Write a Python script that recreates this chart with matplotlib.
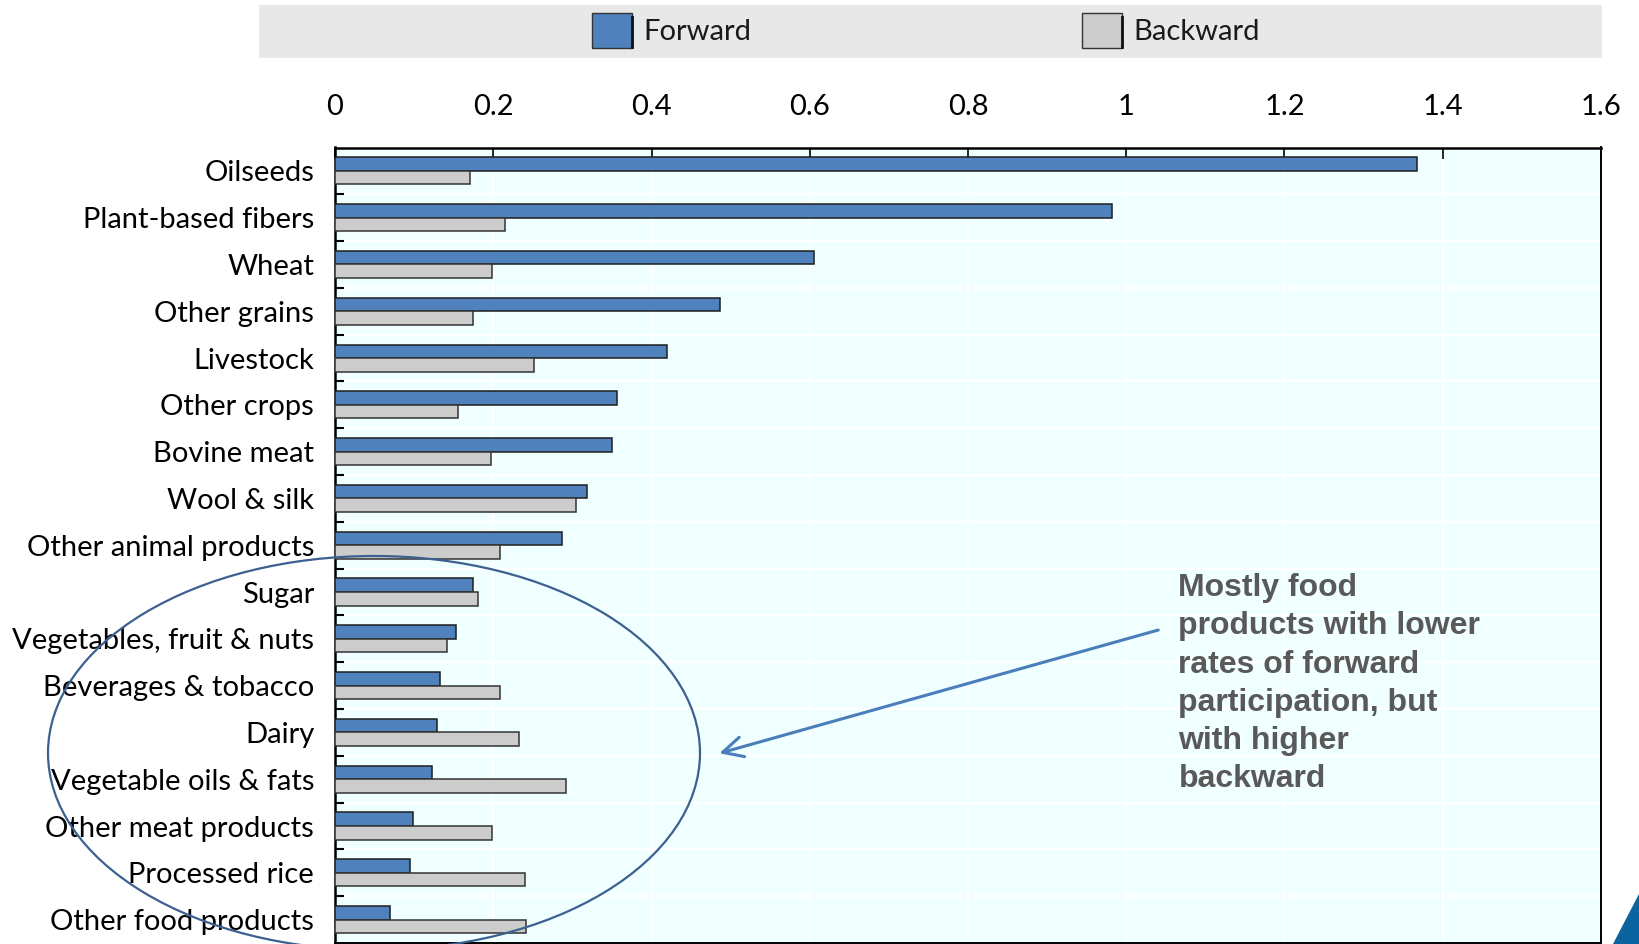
import matplotlib
matplotlib.use("Agg")
import matplotlib.pyplot as plt
from matplotlib.patches import Ellipse, Rectangle, Polygon
from matplotlib.lines import Line2D
import numpy as np

# ---- data -------------------------------------------------------------
categories = ["Oilseeds", "Plant-based fibers", "Wheat", "Other grains", "Livestock",
              "Other crops", "Bovine meat", "Wool & silk", "Other animal products",
              "Sugar", "Vegetables, fruit & nuts", "Beverages & tobacco", "Dairy",
              "Vegetable oils & fats", "Other meat products", "Processed rice",
              "Other food products"]
forward = [1.367, 0.982, 0.606, 0.487, 0.419, 0.357, 0.350, 0.318, 0.287,
           0.174, 0.153, 0.133, 0.129, 0.123, 0.099, 0.095, 0.069]
backward = [0.171, 0.215, 0.198, 0.174, 0.251, 0.156, 0.197, 0.305, 0.208,
            0.181, 0.142, 0.209, 0.233, 0.292, 0.198, 0.240, 0.241]
x_ticks = [0, 0.2, 0.4, 0.6, 0.8, 1.0, 1.2, 1.4, 1.6]
x_tick_labels = ["0", "0.2", "0.4", "0.6", "0.8", "1", "1.2", "1.4", "1.6"]
series_names = ["Forward", "Backward"]
note = ("Mostly food\nproducts with lower\nrates of forward\n"
        "participation, but\nwith higher\nbackward")

# ---- styling ----------------------------------------------------------
W, H = 1640, 944
BLUE = "#4f81bd"
GREY = "#cccccc"
LABEL_FONT = "Lato"
LABEL_SIZE = 21

plt.rcParams["font.family"] = [LABEL_FONT, "DejaVu Sans"]


def fx(x):
    return x / W


def fy(y):
    return 1 - y / H


fig = plt.figure(figsize=(W / 100, H / 100), dpi=100)
fig.patch.set_facecolor("white")

ax_left, ax_right, ax_top, ax_bottom = 335, 1601, 147.5, 943
ax = fig.add_axes([fx(ax_left), fy(ax_bottom), (ax_right - ax_left) / W,
                   (ax_bottom - ax_top) / H])
ax.set_facecolor("#f0ffff")

n = len(categories)
ypos = np.arange(n)
bar_h = 0.29
ax.barh(ypos - bar_h / 2, forward, height=bar_h, color=BLUE,
        edgecolor="#1e1e1e", linewidth=1.1, zorder=3)
ax.barh(ypos + bar_h / 2, backward, height=bar_h, color=GREY,
        edgecolor="#333333", linewidth=1.1, zorder=3)

ax.set_xlim(0, 1.6)
ax.set_ylim(n - 0.5, -0.5)

# x axis on top with inward ticks
ax.xaxis.tick_top()
ax.set_xticks(x_ticks)
ax.set_xticklabels(x_tick_labels)
ax.tick_params(axis="x", which="major", direction="in", length=8, width=1.2,
               pad=19.5, labelsize=LABEL_SIZE, top=True, bottom=False,
               labeltop=True, labelbottom=False)

# category labels, boundary ticks on the left spine
ax.set_yticks(ypos)
ax.set_yticklabels(categories)
ax.tick_params(axis="y", which="major", length=0, pad=15, labelsize=LABEL_SIZE)
ax.set_yticks(np.arange(0.5, n - 1, 1), minor=True)
ax.tick_params(axis="y", which="minor", direction="in", length=6.5, width=1.5)

ax.grid(axis="x", which="major", color="white", linewidth=1.5)
ax.grid(axis="y", which="minor", color="white", linewidth=1.5)
ax.set_axisbelow(True)

for side, lw in [("top", 1.8), ("left", 1.8), ("right", 1.4), ("bottom", 1.4)]:
    ax.spines[side].set_linewidth(lw)
    ax.spines[side].set_color("black")

# ---- legend band -------------------------------------------------------
fig.add_artist(Rectangle((fx(259), fy(57.5)), (1602 - 259) / W, 52.5 / H,
                         transform=fig.transFigure, facecolor="#e8e8e8",
                         edgecolor="none", zorder=0))
for name, color, x0 in [(series_names[0], BLUE, 592), (series_names[1], GREY, 1082)]:
    fig.add_artist(Rectangle((fx(x0), fy(48)), 40 / W, 35 / H,
                             transform=fig.transFigure, facecolor=color,
                             edgecolor="#333333", linewidth=1.0, zorder=2))
    fig.add_artist(Line2D([fx(x0 + 40), fx(x0 + 40)], [fy(47), fy(17)],
                          transform=fig.transFigure, color="#111111",
                          linewidth=2.0, zorder=3))
    fig.text(fx(x0 + 51), fy(32), name, fontsize=LABEL_SIZE, ha="left",
             va="center", color="#1a1a1a")

# ---- annotation ----------------------------------------------------------
fig.text(fx(1178.5), fy(573), note, fontsize=23, fontweight="bold",
         family=["Liberation Sans", "DejaVu Sans"], color="#595959",
         ha="left", va="top", linespacing=1.36, zorder=7)

ax.annotate("", xy=(719.3, H - 753.3), xytext=(1158.3, H - 630),
            xycoords="figure pixels", textcoords="figure pixels",
            arrowprops=dict(arrowstyle="->,head_length=0.72,head_width=0.36",
                            mutation_scale=20, color="#4a7ebb", lw=2.2,
                            shrinkA=0, shrinkB=0),
            annotation_clip=False)

fig.add_artist(Ellipse((3.74, (H - 753) / 100), 6.52, 3.94,
                       transform=fig.dpi_scale_trans, fill=False,
                       edgecolor="#3c6090", linewidth=1.6, zorder=6,
                       clip_on=False))

# corner mark
fig.add_artist(Polygon([(fx(1612.7), 0), (1, 0), (1, fy(892))], closed=True,
                       transform=fig.transFigure, facecolor="#0b64a0",
                       edgecolor="none", zorder=6))

fig.savefig("out.png", dpi=100)
